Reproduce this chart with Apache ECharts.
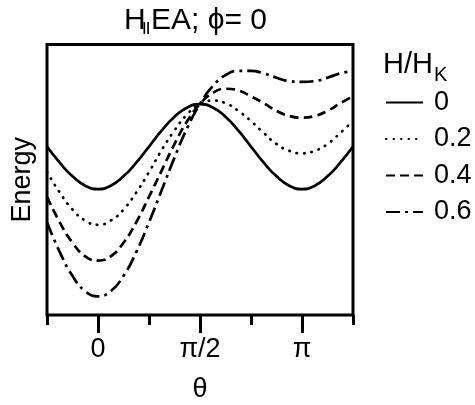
<!DOCTYPE html>
<html>
<head>
<meta charset="utf-8">
<script src="https://cdn.jsdelivr.net/npm/echarts@6/dist/echarts.min.js"></script>
<style>
  html, body { margin: 0; padding: 0; background: #fff; }
  #chart { width: 475px; height: 405px; }
</style>
</head>
<body>
<div id="chart"></div>
<script>
// Magnetisation angle θ in degrees, sampled every π/16 from -π/4 to 5π/4
const theta = [-45, -33.75, -22.5, -11.25, 0, 11.25, 22.5, 33.75, 45, 56.25, 67.5, 78.75,
  90, 101.25, 112.5, 123.75, 135, 146.25, 157.5, 168.75, 180, 191.25, 202.5, 213.75, 225];

// Reduced field values H/H_K
const fieldLabels = ['0', '0.2', '0.4', '0.6'];

// Energy (arbitrary units) for each field
const energyH00 = [0.50, 0.31, 0.15, 0.04, 0.00, 0.04, 0.15, 0.31, 0.50, 0.69, 0.85, 0.96,
  1.00, 0.96, 0.85, 0.69, 0.50, 0.31, 0.15, 0.04, 0.00, 0.04, 0.15, 0.31, 0.50];
const energyH02 = [0.20, -0.04, -0.24, -0.37, -0.42, -0.37, -0.24, -0.04, 0.20, 0.46, 0.69, 0.88,
  1.00, 1.04, 1.01, 0.92, 0.80, 0.66, 0.53, 0.45, 0.42, 0.45, 0.53, 0.66, 0.80];
const energyH04 = [-0.09, -0.39, -0.63, -0.79, -0.84, -0.79, -0.63, -0.39, -0.09, 0.22, 0.53, 0.80,
  1.00, 1.13, 1.18, 1.16, 1.09, 1.01, 0.92, 0.86, 0.84, 0.86, 0.92, 1.01, 1.09];
const energyH06 = [-0.39, -0.74, -1.02, -1.20, -1.26, -1.20, -1.02, -0.74, -0.39, -0.01, 0.37, 0.72,
  1.00, 1.21, 1.34, 1.39, 1.39, 1.36, 1.31, 1.27, 1.26, 1.27, 1.31, 1.36, 1.39];

// Labelled θ ticks
const majorTicks = [0, 90, 180];
const majorTickLabels = ['0', 'π/2', 'π'];

const FONT = 'Liberation Sans, Arial, Helvetica, sans-serif';
const energies = [energyH00, energyH02, energyH04, energyH06];
const lineStyles = [
  { type: 'solid', cap: 'butt' },
  { type: [0.5, 7], cap: 'round' },
  { type: [9, 5], cap: 'butt' },
  { type: [14, 5, 3, 5], cap: 'butt' }
];

function label(text, x, y, size, weight) {
  return {
    type: 'text', x: x, y: y, silent: true,
    style: {
      text: text, fontSize: size, fontWeight: weight || 'normal', fontFamily: FONT, fill: '#000',
      align: 'left', verticalAlign: 'middle'
    }
  };
}

const chart = echarts.init(document.getElementById('chart'), null, { renderer: 'canvas' });

chart.setOption({
  animation: false,
  backgroundColor: '#fff',
  textStyle: { fontFamily: FONT, color: '#000' },
  grid: {
    left: 47, right: 122, top: 44.5, bottom: 90,
    outerBoundsMode: 'none', containLabel: false,
    show: true, borderColor: '#000', borderWidth: 3, backgroundColor: 'transparent'
  },
  graphic: [
    // title: H∥EA; ϕ= 0
    label('H', 124, 21, 30),
    label('||', 142.5, 27, 13, 'bold'),
    label('EA; ϕ= 0', 151, 21, 30),
    // legend heading: H/H_K
    label('H/H', 383, 65, 29),
    label('K', 434, 75, 20)
  ],
  legend: {
    orient: 'vertical', left: 385, top: 89, padding: 0,
    itemWidth: 37, itemHeight: 14, itemGap: 9.5,
    itemStyle: { color: 'rgba(0,0,0,0)', borderColor: 'rgba(0,0,0,0)', borderWidth: 0 },
    textStyle: { fontSize: 27, lineHeight: 26, color: '#000', fontFamily: FONT, padding: [0, 0, 0, 6] },
    selectedMode: false,
    data: fieldLabels
  },
  xAxis: [
    {
      type: 'value', min: -45, max: 225, interval: 45, position: 'bottom',
      axisLine: { show: false, onZero: false },
      axisTick: { show: true, length: 10, lineStyle: { color: '#000', width: 3 } },
      axisLabel: { show: false },
      splitLine: { show: false }
    },
    {
      type: 'value', min: -45, max: 225, position: 'bottom',
      axisLine: { show: false, onZero: false },
      axisTick: { show: true, customValues: majorTicks, length: 18, lineStyle: { color: '#000', width: 3 } },
      axisLabel: {
        customValues: majorTicks,
        formatter: v => majorTickLabels[majorTicks.indexOf(v)] || '',
        fontSize: 27, color: '#000', margin: 21, fontFamily: FONT
      },
      splitLine: { show: false },
      name: 'θ', nameLocation: 'middle', nameGap: 61,
      nameTextStyle: { fontSize: 27, color: '#000', fontFamily: FONT }
    }
  ],
  yAxis: {
    type: 'value', min: -1.48, max: 1.70,
    axisLine: { show: false, onZero: false },
    axisTick: { show: false },
    axisLabel: { show: false },
    splitLine: { show: false },
    name: 'Energy', nameLocation: 'middle', nameGap: 11,
    nameTextStyle: { fontSize: 27, color: '#000', fontFamily: FONT }
  },
  series: fieldLabels.map((name, i) => ({
    type: 'line',
    name: name,
    xAxisIndex: 0,
    data: theta.map((t, k) => [t, energies[i][k]]),
    smooth: true,
    symbol: 'none',
    showSymbol: false,
    silent: true,
    itemStyle: { color: '#000' },
    lineStyle: Object.assign({ color: '#000', width: 2.7 }, lineStyles[i])
  }))
});
</script>
</body>
</html>
